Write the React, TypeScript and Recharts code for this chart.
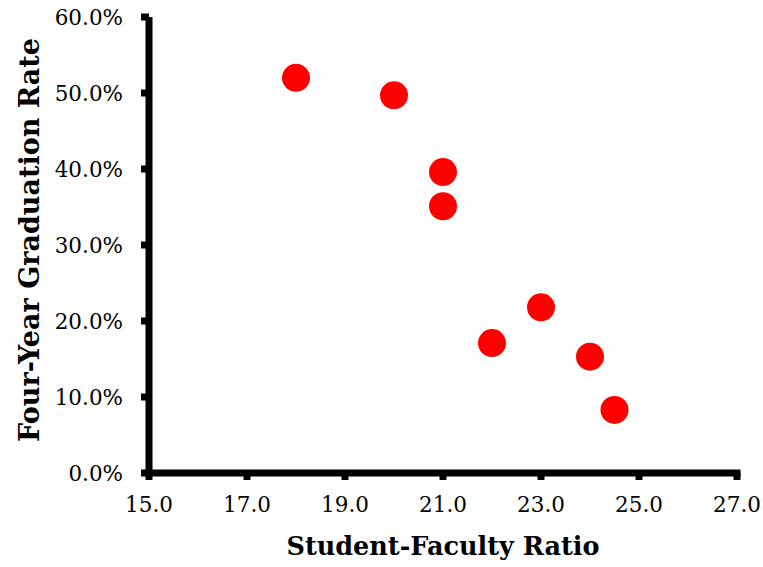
import { ScatterChart, Scatter, XAxis, YAxis, Label } from "recharts";

// student-faculty ratio vs four-year graduation rate
const ratios = [18, 20, 21, 21, 22, 23, 24, 24.5];
const gradRates = [0.52, 0.497, 0.396, 0.351, 0.171, 0.218, 0.153, 0.083];

const xTicks = [15, 17, 19, 21, 23, 25, 27];
const yTicks = [0, 0.1, 0.2, 0.3, 0.4, 0.5, 0.6];

const points = ratios.map((ratio, index) => ({ ratio, rate: gradRates[index] }));

const FONT = "'DejaVu Serif', 'Liberation Serif', serif";

const Dot = (props: { cx?: number; cy?: number }) => (
  <circle cx={props.cx} cy={props.cy} r={14} fill="#ff0000" />
);

export default function App() {
  return (
    <div style={{ width: 763, height: 567, position: "absolute", left: 0, top: 0, background: "#fff" }}>
      <ScatterChart width={763} height={567} margin={{ top: 17, right: 26, left: 0, bottom: 0 }}>
        <XAxis
          type="number"
          dataKey="ratio"
          domain={[15, 27]}
          ticks={xTicks}
          tickFormatter={(v: number) => v.toFixed(1)}
          height={94}
          axisLine={{ stroke: "#000", strokeWidth: 7, strokeLinecap: "square" }}
          tickLine={{ stroke: "#000", strokeWidth: 7 }}
          tickSize={7}
          tickMargin={17}
          tick={{ fill: "#000", fontSize: 21.5, fontFamily: FONT }}
        >
          <Label
            value="Student-Faculty Ratio"
            position="insideBottom"
            offset={12}
            style={{ fontFamily: FONT, fontSize: 25.5, fontWeight: "bold", fill: "#000" }}
          />
        </XAxis>
        <YAxis
          type="number"
          dataKey="rate"
          domain={[0, 0.6]}
          ticks={yTicks}
          tickFormatter={(v: number) => (v * 100).toFixed(1) + "%"}
          width={149}
          axisLine={{ stroke: "#000", strokeWidth: 7 }}
          tickLine={{ stroke: "#000", strokeWidth: 7 }}
          tickSize={8}
          tickMargin={18}
          tick={{ fill: "#000", fontSize: 21.5, fontFamily: FONT }}
        >
          <Label
            value="Four-Year Graduation Rate"
            angle={-90}
            position="insideLeft"
            offset={29}
            dy={-5}
            style={{ fontFamily: FONT, fontSize: 27, fontWeight: "bold", fill: "#000", textAnchor: "middle" }}
          />
        </YAxis>
        <Scatter data={points} shape={<Dot />} isAnimationActive={false} />
      </ScatterChart>
    </div>
  );
}
